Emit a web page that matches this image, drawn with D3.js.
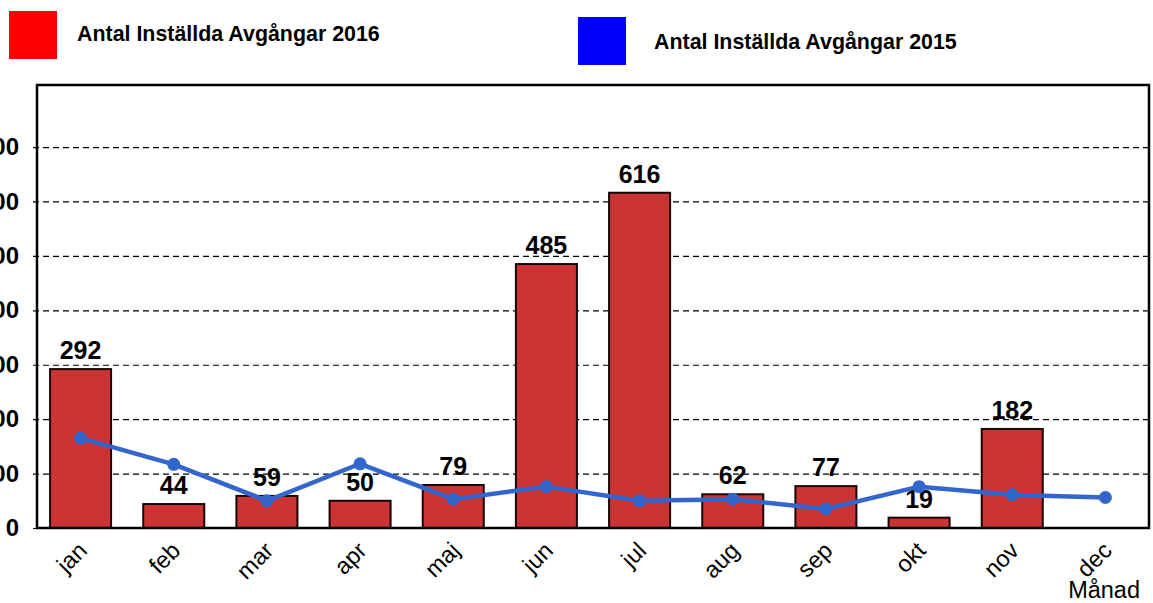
<!DOCTYPE html>
<html>
<head>
<meta charset="utf-8">
<script src="https://cdn.jsdelivr.net/npm/d3@7"></script>
<style>
  html, body { margin: 0; padding: 0; background: #fff; }
  svg { display: block; font-family: "Liberation Sans", Arial, sans-serif; }
</style>
</head>
<body>
<div id="chart"></div>
<script>
const months = ["jan", "feb", "mar", "apr", "maj", "jun", "jul", "aug", "sep", "okt", "nov", "dec"];
const values2016 = [292, 44, 59, 50, 79, 485, 616, 62, 77, 19, 182, null];
const values2015 = [165, 117, 50, 118, 53, 76, 50, 53, 35, 76, 61, 56];
const yTicks = [0, 100, 200, 300, 400, 500, 600, 700];
const seriesNames = ["Antal Inställda Avgångar 2016", "Antal Inställda Avgångar 2015"];

const width = 1153, height = 603;
const frame = { left: 37, right: 1149, top: 85, bottom: 528 };

const svg = d3.select("#chart")
  .append("svg")
  .attr("width", width)
  .attr("height", height);

const x = d3.scaleBand()
  .domain(months)
  .range([34, 1152])
  .paddingInner(0.345)
  .paddingOuter(0.1725);

const y = d3.scaleLinear()
  .domain([0, 814])
  .range([frame.bottom, frame.top]);

// gridlines + ticks (labels run off the left edge, as in the original)
const yAxis = svg.append("g")
  .attr("transform", `translate(${frame.left},0)`)
  .call(d3.axisLeft(y)
    .tickValues(yTicks)
    .tickSize(-(frame.right - frame.left))
    .tickSizeOuter(0)
    .tickPadding(18));
yAxis.select(".domain").remove();
yAxis.selectAll(".tick line")
  .attr("x1", -4)
  .attr("stroke", "#000")
  .attr("stroke-width", 1.2)
  .attr("stroke-dasharray", d => d === 0 ? null : "6,4");
yAxis.selectAll(".tick text")
  .attr("font-size", 24)
  .attr("font-weight", "bold")
  .attr("fill", "#000")
  .attr("font-family", "Liberation Sans, Arial, sans-serif");

const barData = months.map((m, i) => ({ m, v: values2016[i] })).filter(d => d.v != null);

// bars
svg.append("g")
  .selectAll("rect")
  .data(barData)
  .join("rect")
  .attr("x", d => x(d.m))
  .attr("y", d => y(d.v))
  .attr("width", x.bandwidth())
  .attr("height", d => y(0) - y(d.v))
  .attr("fill", "#cc3333")
  .attr("stroke", "#1a0505")
  .attr("stroke-width", 2);

// bar labels
svg.append("g")
  .selectAll("text")
  .data(barData)
  .join("text")
  .attr("x", d => x(d.m) + x.bandwidth() / 2)
  .attr("y", d => y(d.v) - 10)
  .attr("text-anchor", "middle")
  .attr("font-size", 25)
  .attr("font-weight", "bold")
  .attr("fill", "#000")
  .text(d => d.v);

// 2015 line
const linePts = months.map((m, i) => ({ m, v: values2015[i] }));
const line = d3.line()
  .x(d => x(d.m) + x.bandwidth() / 2)
  .y(d => y(d.v));

svg.append("path")
  .datum(linePts)
  .attr("d", line)
  .attr("fill", "none")
  .attr("stroke", "#3366cc")
  .attr("stroke-width", 4.5)
  .attr("stroke-linejoin", "round");

svg.append("g")
  .selectAll("circle")
  .data(linePts)
  .join("circle")
  .attr("cx", d => x(d.m) + x.bandwidth() / 2)
  .attr("cy", d => y(d.v))
  .attr("r", 6.5)
  .attr("fill", "#3366cc");

// frame
svg.append("rect")
  .attr("x", frame.left)
  .attr("y", frame.top)
  .attr("width", frame.right - frame.left)
  .attr("height", frame.bottom - frame.top)
  .attr("fill", "none")
  .attr("stroke", "#000")
  .attr("stroke-width", 2.5);

// x labels
svg.append("g")
  .selectAll("text")
  .data(months)
  .join("text")
  .attr("transform", d => `translate(${x(d) + x.bandwidth() / 2 + 8},${552}) rotate(-45)`)
  .attr("text-anchor", "end")
  .attr("font-size", 23.5)
  .attr("fill", "#000")
  .text(d => d);

svg.append("text")
  .attr("x", 1140)
  .attr("y", 598)
  .attr("text-anchor", "end")
  .attr("font-size", 23.5)
  .attr("fill", "#000")
  .text("Månad");

// legend
const legend = [
  { name: seriesNames[0], color: "#ff0000", sx: 9, sy: 11, tx: 77, ty: 41 },
  { name: seriesNames[1], color: "#0000ff", sx: 578, sy: 17, tx: 654, ty: 49 }
];
const lg = svg.append("g").selectAll("g").data(legend).join("g");
lg.append("rect")
  .attr("x", d => d.sx)
  .attr("y", d => d.sy)
  .attr("width", 48)
  .attr("height", 48)
  .attr("fill", d => d.color);
lg.append("text")
  .attr("x", d => d.tx)
  .attr("y", d => d.ty)
  .attr("font-size", 21.4)
  .attr("font-weight", "bold")
  .attr("fill", "#000")
  .text(d => d.name);
</script>
</body>
</html>
